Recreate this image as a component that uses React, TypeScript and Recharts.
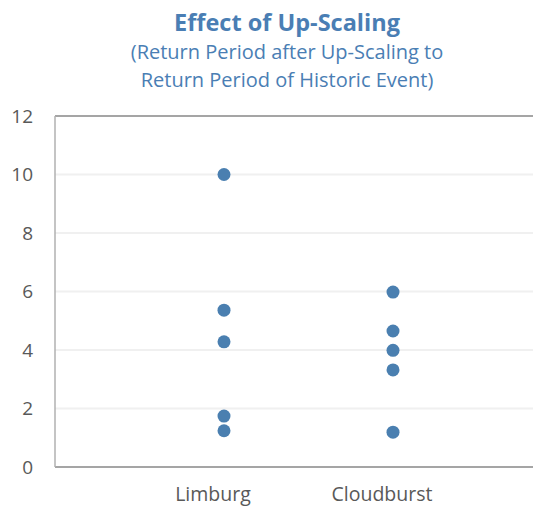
import React from 'react'
import {
  ScatterChart,
  Scatter,
  XAxis,
  YAxis,
  CartesianGrid,
  ReferenceLine,
} from 'recharts'

const categories = ['Limburg', 'Cloudburst']
const limburg = [10, 5.36, 4.28, 1.74, 1.24]
const cloudburst = [5.98, 4.65, 3.99, 3.32, 1.19]
const yTicks = [0, 2, 4, 6, 8, 10, 12]

const dotColor = '#4a7fb0'
const fontFamily = '"Open Sans", "Noto Sans", sans-serif'

const points = [
  ...limburg.map((y) => ({ x: 1, y })),
  ...cloudburst.map((y) => ({ x: 2, y })),
]

const CategoryTick = (props: any) => {
  const { x, y, payload } = props
  return (
    <text
      x={x - 11}
      y={y + 26}
      textAnchor="middle"
      fill="#595959"
      fontSize={19.5}
      fontFamily={fontFamily}
    >
      {categories[payload.value - 1]}
    </text>
  )
}

const lineStyle = (top: number, size: number, weight: number): React.CSSProperties => ({
  position: 'absolute',
  left: 0,
  width: 574,
  top,
  textAlign: 'center',
  color: '#4a7eb4',
  fontSize: size,
  fontWeight: weight,
  lineHeight: '28px',
  whiteSpace: 'nowrap',
})

export default function App() {
  return (
    <div
      style={{
        position: 'absolute',
        left: 0,
        top: 0,
        width: 533,
        height: 507,
        overflow: 'hidden',
        background: '#fff',
        fontFamily,
      }}
    >
      <div style={lineStyle(8, 23.5, 700)}>Effect of Up-Scaling</div>
      <div style={lineStyle(38, 20, 400)}>(Return Period after Up-Scaling to</div>
      <div style={lineStyle(66, 20, 400)}>Return Period of Historic Event)</div>

      <ScatterChart
        width={600}
        height={507}
        margin={{ top: 116, right: 38, bottom: 0, left: 0 }}
      >
        <CartesianGrid horizontal vertical={false} stroke="#f0f0f0" strokeWidth={2} />
        <XAxis
          type="number"
          dataKey="x"
          domain={[0, 3]}
          ticks={[1, 2]}
          height={40}
          tickLine={false}
          axisLine={{ stroke: '#8c8c8c', strokeWidth: 1.5 }}
          tick={<CategoryTick />}
        />
        <YAxis
          type="number"
          dataKey="y"
          domain={[0, 12]}
          ticks={yTicks}
          width={55}
          tickLine={false}
          tickMargin={16}
          axisLine={{ stroke: '#b0b0b0', strokeWidth: 1.5 }}
          tick={{ fill: '#595959', fontSize: 19, fontFamily }}
        />
        <ReferenceLine y={12} stroke="#8c8c8c" strokeWidth={1.5} />
        <Scatter
          data={points}
          fill={dotColor}
          isAnimationActive={false}
          shape={(p: any) => <circle cx={p.cx} cy={p.cy} r={6.5} fill={dotColor} />}
        />
      </ScatterChart>
    </div>
  )
}
